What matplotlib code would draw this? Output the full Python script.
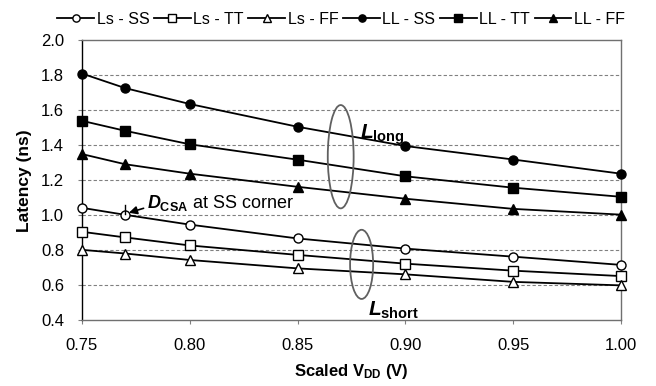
import matplotlib
matplotlib.use("Agg")
import matplotlib.pyplot as plt
from matplotlib.patches import Ellipse

plt.rcParams['font.family'] = ['Liberation Sans', 'DejaVu Sans']
plt.rcParams['mathtext.fontset'] = 'custom'
plt.rcParams['mathtext.rm'] = 'Liberation Sans:bold'
plt.rcParams['mathtext.bf'] = 'Liberation Sans:bold'
plt.rcParams['mathtext.it'] = 'Liberation Sans:italic:bold'

# supply voltage points
vdd = [0.75, 0.77, 0.80, 0.85, 0.90, 0.95, 1.00]

# latency (ns)
ls_ss = [1.043, 1.003, 0.947, 0.868, 0.810, 0.764, 0.717]
ls_tt = [0.906, 0.874, 0.828, 0.774, 0.724, 0.684, 0.653]
ls_ff = [0.803, 0.782, 0.745, 0.697, 0.663, 0.620, 0.600]
ll_ss = [1.810, 1.727, 1.636, 1.506, 1.396, 1.319, 1.238]
ll_tt = [1.540, 1.483, 1.406, 1.318, 1.223, 1.158, 1.106]
ll_ff = [1.350, 1.292, 1.238, 1.163, 1.095, 1.037, 1.004]

names = ['Ls - SS', 'Ls - TT', 'Ls - FF', 'LL - SS', 'LL - TT', 'LL - FF']
series = [ls_ss, ls_tt, ls_ff, ll_ss, ll_tt, ll_ff]
marks = ['o', 's', '^', 'o', 's', '^']
fills = ['white', 'white', 'white', 'black', 'black', 'black']

xticks = [0.75, 0.80, 0.85, 0.90, 0.95, 1.00]
yticks = [0.4, 0.6, 0.8, 1.0, 1.2, 1.4, 1.6, 1.8, 2.0]

fig = plt.figure(figsize=(6.56, 3.86), dpi=100)
ax = fig.add_axes([0.125, 0.170, 0.8216, 0.7256])

for y, n, m, f in zip(series, names, marks, fills):
    ax.plot(vdd, y, color='black', lw=1.3, marker=m, ms=6.5,
            mfc=f, mec='black', mew=1.0, label=n, clip_on=False, zorder=3)

ax.set_xlim(0.75, 1.00)
ax.set_ylim(0.4, 2.0)
ax.set_xticks(xticks)
ax.set_xticklabels(['%.2f' % v for v in xticks])
ax.set_yticks(yticks)
ax.set_yticklabels(['%.1f' % v for v in yticks])
ax.tick_params(labelsize=12, length=3, color='#808080', width=0.8, pad=10)

for v in yticks[1:-1]:
    ax.axhline(v, color='#808080', ls=(0, (3, 2)), lw=0.8, zorder=1)
for s in ax.spines.values():
    s.set_color('#707070')
    s.set_linewidth(1.0)
ax.spines['left'].set_color('black')

ax.set_ylabel('Latency (ns)', fontsize=12.5, fontweight='bold', labelpad=6)
ax.set_xlabel(r'Scaled V$_{\mathrm{DD}}$ (V)', fontsize=12, fontweight='bold', labelpad=6)

# groupings
ax.add_patch(Ellipse((0.870, 1.335), 0.012, 0.59, fill=False, ec='#606060', lw=1.3, zorder=4))
ax.add_patch(Ellipse((0.8797, 0.72), 0.0107, 0.395, fill=False, ec='#606060', lw=1.3, zorder=4))
ax.text(0.879, 1.46, r'$\mathit{L}_{\mathrm{long}}$', fontsize=15, va='center', ha='left')
ax.text(0.8825, 0.455, r'$\mathit{L}_{\mathrm{short}}$', fontsize=15, va='center', ha='left')

# DCSA note
ax.plot([0.77, 0.77], [1.01, 1.06], color='black', lw=1.0, zorder=4)
ax.annotate('', xy=(0.7705, 1.01), xytext=(0.7798, 1.045),
            arrowprops=dict(arrowstyle='-|>', color='black', lw=1.2, mutation_scale=12))
ax.text(0.7801, 1.07, r'$\mathit{D}_{\mathrm{CSA}}$ at SS corner', fontsize=13, va='center', ha='left')

fig.legend(loc='upper center', bbox_to_anchor=(0.52, 1.0), ncol=6, frameon=False,
           fontsize=11.5, handlelength=2.3, handletextpad=0.15, columnspacing=0.3,
           borderpad=0.25, markerscale=0.8)

fig.savefig('out.png', dpi=100)
